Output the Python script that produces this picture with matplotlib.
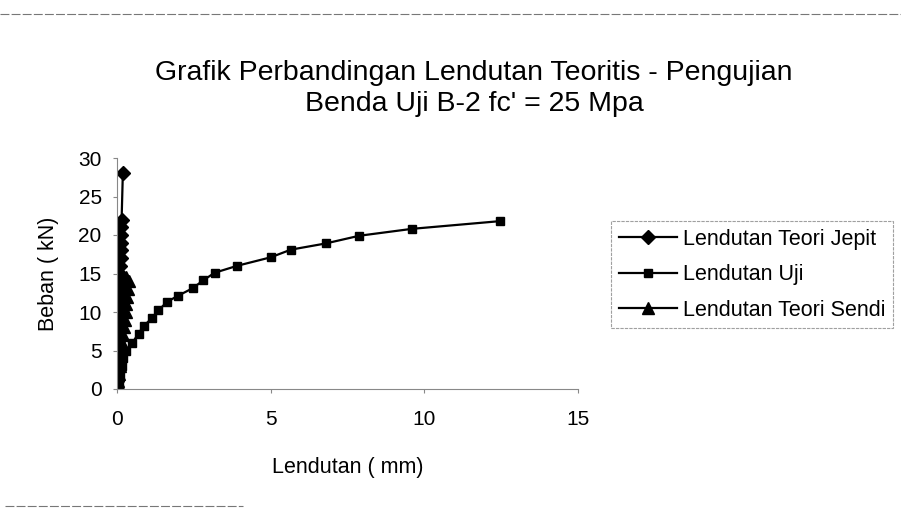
import numpy as np
import matplotlib.pyplot as plt
from matplotlib.lines import Line2D

plt.rcParams['font.family'] = ['Liberation Sans', 'DejaVu Sans']

# Lendutan Teori Jepit (diamonds)
jepit_beban = [0, 1, 2, 3, 4, 5, 6, 7, 8, 9, 10, 11, 12, 13, 14, 15, 16, 17, 18, 19, 20, 21, 22, 28]
jepit_lendutan = [0.0, 0.007, 0.014, 0.02, 0.027, 0.034, 0.041, 0.048, 0.054, 0.061, 0.068,
                  0.075, 0.082, 0.088, 0.095, 0.102, 0.109, 0.116, 0.122, 0.129, 0.136,
                  0.143, 0.15, 0.19]

# Lendutan Uji (squares)
uji_beban = [0, 1, 2, 3, 4, 5, 6, 7.2, 8.2, 9.2, 10.2, 11.3, 12.1, 13.1, 14.1, 15.1,
             16.0, 17.1, 18.1, 18.9, 19.9, 20.8, 21.8]
uji_lendutan = [0.02, 0.06, 0.1, 0.15, 0.2, 0.3, 0.5, 0.7, 0.87, 1.14, 1.35, 1.62, 1.98,
                2.47, 2.8, 3.18, 3.91, 5.0, 5.66, 6.79, 7.88, 9.6, 12.46]

# Lendutan Teori Sendi (triangles)
sendi_beban = [0, 1, 2, 3, 4, 5, 6, 7, 8, 9, 10, 11, 12, 13, 14, 14.5]
sendi_lendutan = [0.0, 0.028, 0.056, 0.084, 0.112, 0.14, 0.168, 0.196, 0.224, 0.252,
                  0.28, 0.308, 0.336, 0.364, 0.392, 0.3]

fig = plt.figure(figsize=(9.01, 5.08), dpi=100)
ax = fig.add_axes([117 / 901, 119 / 508, 461 / 901, 231 / 508])

ax.plot(jepit_lendutan, jepit_beban, 'k-', lw=1.6, marker='D', ms=7,
        label='Lendutan Teori Jepit')
ax.plot(uji_lendutan, uji_beban, 'k-', lw=1.6, marker='s', ms=6,
        label='Lendutan Uji')
ax.plot(sendi_lendutan, sendi_beban, 'k-', lw=1.6, marker='^', ms=9,
        label='Lendutan Teori Sendi')

ax.set_xlim(0, 15)
ax.set_ylim(0, 30)
ax.set_xticks([0, 5, 10, 15])
ax.set_yticks([0, 5, 10, 15, 20, 25, 30])
ax.tick_params(axis='x', length=3, width=0.8, color='#888888', pad=12, labelsize=15)
ax.tick_params(axis='y', length=3, width=0.8, color='#888888', pad=8, labelsize=15)
for side in ['top', 'right']:
    ax.spines[side].set_visible(False)
for side in ['left', 'bottom']:
    ax.spines[side].set_color('#888888')
    ax.spines[side].set_linewidth(0.8)
ax.spines['left'].set_linestyle((0, (2, 1)))
ax.patch.set_alpha(0)

ax.set_xlabel('Lendutan ( mm)', fontsize=15.5, labelpad=20)
ax.set_ylabel('Beban ( kN)', fontsize=15.5, labelpad=14)

fig.text(474 / 901, 1 - 73 / 508, 'Grafik Perbandingan Lendutan Teoritis - Pengujian',
         ha='center', va='center', fontsize=20.5)
fig.text(474 / 901, 1 - 104 / 508, "Benda Uji B-2 fc' = 25 Mpa",
         ha='center', va='center', fontsize=20.5)

leg = ax.legend(loc='upper left', bbox_to_anchor=(611 / 901, 1 - 221 / 508),
                bbox_transform=fig.transFigure, frameon=True, fancybox=False,
                fontsize=15.5, handlelength=2.7, handletextpad=0.3,
                borderpad=0.35, labelspacing=0.68, borderaxespad=0)
leg.get_frame().set_edgecolor('#888888')
leg.get_frame().set_linestyle((0, (3, 1)))
leg.get_frame().set_linewidth(0.8)

# scanned chart border remnants
fig.add_artist(Line2D([0.0, 1.0], [1 - 14 / 508, 1 - 14 / 508], transform=fig.transFigure,
                      color='#777777', lw=0.8, ls=(0, (8, 2))))
fig.add_artist(Line2D([0.005, 0.27], [1 - 506 / 508, 1 - 506 / 508], transform=fig.transFigure,
                      color='#777777', lw=0.8, ls=(0, (8, 2))))

fig.savefig('out.png', dpi=100)
